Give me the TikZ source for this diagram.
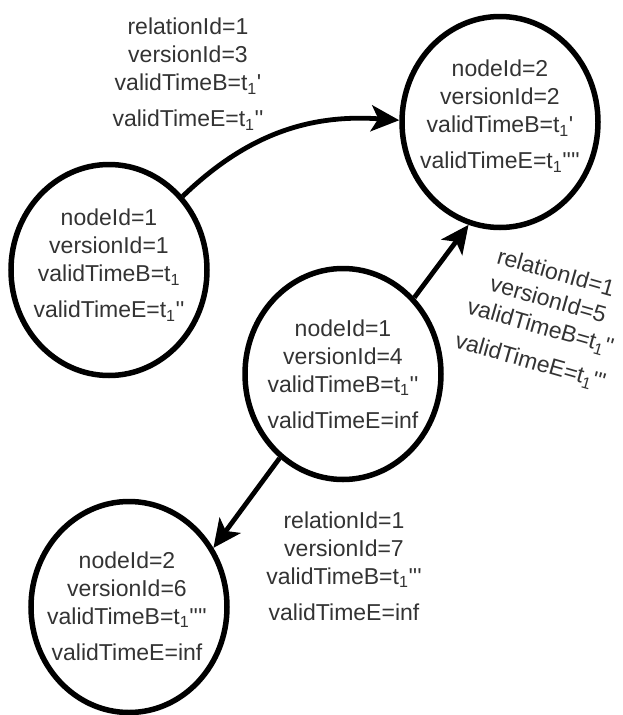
\documentclass[tikz,border=0pt]{standalone}
\usepackage{fontspec}
\setmainfont{Liberation Sans}[Ligatures=TeXOff]
\usetikzlibrary{shapes.geometric,arrows.meta}
\definecolor{txt}{RGB}{51,51,51}
\newcommand{\qq}{\textquotesingle}
\tikzset{
  circ/.style={ellipse,draw=black,line width=5.5pt,minimum width=196pt,minimum height=211pt,inner sep=0pt},
  lab/.style={text=txt,align=center,inner sep=0pt,font=\fontsize{23}{28}\selectfont},
  edge/.style={draw=black,line width=4.8pt,-{Stealth[length=28pt,width=26pt,inset=7pt]}}
}
\begin{document}
\begin{tikzpicture}[x=1pt,y=1pt]
\useasboundingbox (0,0) rectangle (622,-715);
\node[circ] (A) at (109,-270) {};
\node[circ] (B) at (500,-122) {};
\node[circ] (C) at (343,-374) {};
\node[circ] (D) at (129,-607) {};

\node[lab] (tA) at (109,-265) {nodeId=1\\versionId=1\\validTimeB=t\textsubscript{1}\\[8pt]validTimeE=t\textsubscript{1}\qq\qq};
\node[lab] (tB) at (500,-116) {nodeId=2\\versionId=2\\validTimeB=t\textsubscript{1}\qq\\[8pt]validTimeE=t\textsubscript{1}\qq\qq\qq\qq};
\node[lab] (tC) at (343,-374) {nodeId=1\\versionId=4\\validTimeB=t\textsubscript{1}\qq\qq\\[8pt]validTimeE=inf};
\node[lab] (tD) at (127,-606) {nodeId=2\\versionId=6\\validTimeB=t\textsubscript{1}\qq\qq\qq\qq\\[8pt]validTimeE=inf};

\node[lab] (r3) at (188,-74) {relationId=1\\versionId=3\\validTimeB=t\textsubscript{1}\qq\\[8pt]validTimeE=t\textsubscript{1}\qq\qq};
\node[lab,rotate=-16] (r5) at (543,-318) {relationId=1\\versionId=5\\validTimeB=t\textsubscript{1}\qq\qq\\[8pt]validTimeE=t\textsubscript{1}\qq\qq\qq};
\node[lab] (r7) at (344,-566) {relationId=1\\versionId=7\\validTimeB=t\textsubscript{1}\qq\qq\qq\\[8pt]validTimeE=inf};

\draw[edge] (A.45) to[out=44,in=176] (B.179);
\draw[edge] (C.47) -- (B.253);
\draw[edge] (C.233) -- (D.35);
\end{tikzpicture}
\end{document}
